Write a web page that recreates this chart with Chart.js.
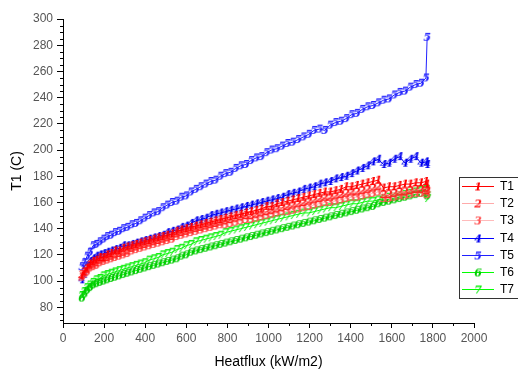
<!DOCTYPE html>
<html>
<head>
<meta charset="utf-8">
<script src="https://cdn.jsdelivr.net/npm/chart.js@4.4.1/dist/chart.umd.min.js"></script>
<style>
html,body{margin:0;padding:0;background:#fff;}
#wrap{width:518px;height:369px;}
</style>
</head>
<body>
<div id="wrap"><canvas id="c" width="518" height="369"></canvas></div>
<script>
const heatflux = [92,104,117,131,146,162,179,197,215,234,253,273,293,313,334,355,376,397,419,441,463,485,507,530,553,576,599,622,646,670,694,718,742,766,790,815,840,865,890,915,940,965,990,1015,1040,1066,1092,1118,1144,1170,1196,1222,1248,1274,1300,1326,1352,1378,1404,1430,1456,1482,1508,1534,1560,1586,1612,1638,1664,1690,1716,1742,1766,1772];
const T1 = [104,107,110,113,115,116,118,118,120,121,123,123,125,126,127,128,129,130,131,132,133,134,135,136,138,139,140,141,142,143,144,145,146,147,148,149,150,151,152,153,154,155,157,157,159,160,161,162,163,164,165,166,167,168,168,169,170,172,172,173,174,175,176,177,171,172,172,173,174,174,175,175,176,174];
const T2 = [105,107,109,112,113,114,116,117,118,119,120,121,122,123,125,126,127,128,129,130,131,132,133,134,136,137,138,139,140,141,142,143,144,145,146,147,148,149,150,150,151,152,153,154,155,156,157,158,159,160,161,162,163,164,164,165,166,167,168,168,169,170,171,172,166,166,167,168,168,169,170,170,171,169];
const T3 = [103,105,107,110,111,112,114,115,116,117,118,119,120,121,123,124,125,126,127,128,129,130,131,132,134,135,136,137,138,139,140,141,142,143,143,144,145,146,147,147,148,149,150,151,152,153,153,154,155,156,157,158,159,160,160,161,162,163,164,164,165,166,167,168,163,163,164,165,165,166,167,167,168,166];
const T4 = [101,105,111,115,117,119,120,121,122,123,124,125,127,127,128,129,130,131,132,133,134,135,137,138,139,141,142,144,146,147,148,150,151,152,153,154,155,156,157,158,159,160,161,162,163,164,166,167,168,170,171,172,174,175,176,178,179,180,182,184,186,188,191,193,189,190,193,195,190,193,195,190,191,189];
const T5 = [111,114,119,122,127,128,130,132,134,135,137,138,140,141,143,144,146,148,150,152,153,156,158,160,161,164,165,168,170,172,174,176,177,180,182,183,186,188,189,192,194,195,198,200,201,203,205,206,208,210,212,215,216,215,219,221,222,224,227,228,231,233,234,236,238,239,242,244,245,248,250,251,255,286];
const T6 = [87,90,93,95,97,98,99,100,101,102,103,104,105,106,107,108,109,110,111,112,113,114,115,116,117,119,120,122,123,124,125,126,127,128,129,130,131,132,133,134,135,136,137,138,139,140,141,142,143,144,145,146,147,148,149,150,151,152,153,154,155,156,157,159,160,161,162,163,164,165,166,167,167,165];
const T7 = [89,92,95,97,99,101,102,104,105,106,107,108,109,110,111,112,113,114,116,117,118,120,121,122,124,125,127,128,130,131,132,133,134,135,137,138,139,140,141,142,143,144,145,146,147,148,149,150,151,152,152,153,154,155,156,156,157,158,159,159,160,161,161,162,163,164,164,165,166,167,168,169,170,163];
const seriesNames = ['T1','T2','T3','T4','T5','T6','T7'];
const seriesValues = [T1,T2,T3,T4,T5,T6,T7];
const markerChars = ['1','2','3','4','5','6','7'];
const xTicks = [0,200,400,600,800,1000,1200,1400,1600,1800,2000];
const yTicks = [80,100,120,140,160,180,200,220,240,260,280,300];

const lineColors = ['#ff0000','#ffaaaa','#ffbbbb','#0000ff','#2020ff','#00ff00','#00ff00'];
const glyphColors = ['#ff0000','#ff2020','#ff5050','#0000ee','#2222ff','#00cc00','#11ee11'];

function glyph(ch, color){
  const c = document.createElement('canvas');
  c.width = 10; c.height = 13;
  const g = c.getContext('2d');
  g.font = "italic bold 11px 'DejaVu Serif'";
  g.fillStyle = color;
  g.textAlign = 'center';
  g.textBaseline = 'middle';
  g.fillText(ch, 5, 7);
  return c;
}
const glyphs = markerChars.map((ch,i)=>glyph(ch, glyphColors[i]));

const datasets = seriesNames.map((name,i)=>({
  label: name,
  data: heatflux.map((x,j)=>({x:x, y:seriesValues[i][j]})),
  borderColor: lineColors[i],
  backgroundColor: lineColors[i],
  borderWidth: 1,
  showLine: true,
  tension: 0,
  pointStyle: glyphs[i],
  pointRadius: 5,
  pointHoverRadius: 5
}));

const minorTicks = {
  id:'minorTicks',
  afterDraw(chart){
    const ctx = chart.ctx;
    const xs = chart.scales.x, ys = chart.scales.y;
    ctx.save();
    ctx.strokeStyle = '#000';
    ctx.lineWidth = 1;
    ctx.beginPath();
    for(let v=100; v<2000; v+=200){
      const px = Math.round(xs.getPixelForValue(v))+0.5;
      ctx.moveTo(px, xs.top); ctx.lineTo(px, xs.top+3);
    }
    for(let v=70; v<=300; v+=5){
      if(v%20===0) continue;
      const py = Math.round(ys.getPixelForValue(v))+0.5;
      ctx.moveTo(ys.right, py); ctx.lineTo(ys.right-3, py);
    }
    ctx.stroke();
    ctx.restore();
  }
};

const legendBox = {
  id:'legendBox',
  afterDraw(chart){
    const ctx = chart.ctx;
    ctx.save();
    ctx.fillStyle = '#fff';
    ctx.fillRect(459, 177, 60, 121);
    ctx.strokeStyle = '#333';
    ctx.lineWidth = 1;
    ctx.strokeRect(459.5, 177.5, 60, 121);
    chart.data.datasets.forEach((ds,i)=>{
      const y = Math.round(186 + i*17.2);
      ctx.strokeStyle = ds.borderColor;
      ctx.beginPath();
      ctx.moveTo(462, y+0.5); ctx.lineTo(494, y+0.5);
      ctx.stroke();
      const g = ds.pointStyle;
      ctx.drawImage(g, 478 - g.width/2, y - g.height/2 + 1);
      ctx.fillStyle = '#000';
      ctx.font = "12px 'Liberation Sans'";
      ctx.textBaseline = 'middle';
      ctx.textAlign = 'left';
      ctx.fillText(ds.label, 500, y+1);
    });
    ctx.restore();
  }
};

new Chart(document.getElementById('c'), {
  type: 'scatter',
  data: { datasets },
  options: {
    responsive: false,
    animation: false,
    devicePixelRatio: 1,
    layout: { padding: { top: 19, right: 44, left: 0, bottom: 0 } },
    plugins: { legend: { display:false }, tooltip: { enabled:false } },
    scales: {
      x: {
        type:'linear', min:0, max:2000,
        afterBuildTicks: s => { s.ticks = xTicks.map(v=>({value:v})); },
        afterFit: s => { s.height = 46; },
        ticks: { autoSkip:false, maxRotation:0, padding:3, color:'#555', font:{family:'Liberation Sans', size:12}, callback: v => String(v) },
        grid: { drawOnChartArea:false, drawTicks:true, tickLength:5, color:'#000' },
        border: { display:true, color:'#000', width:1 },
        title: { display:true, text:'Heatflux (kW/m2)', color:'#000', font:{family:'Liberation Sans', size:14}, padding:{top:0, bottom:-2} }
      },
      y: {
        type:'linear', min:68, max:300,
        afterBuildTicks: s => { s.ticks = yTicks.map(v=>({value:v})); },
        afterFit: s => { s.width = 63; },
        ticks: { autoSkip:false, padding:4, color:'#555', font:{family:'Liberation Sans', size:12}, callback: v => String(v) },
        grid: { drawOnChartArea:false, drawTicks:true, tickLength:6, color:'#000' },
        border: { display:true, color:'#000', width:1 },
        title: { display:true, text:'T1 (C)', color:'#000', font:{family:'Liberation Sans', size:14}, padding:{top:9, bottom:0} }
      }
    }
  },
  plugins: [minorTicks, legendBox]
});
</script>
</body>
</html>
